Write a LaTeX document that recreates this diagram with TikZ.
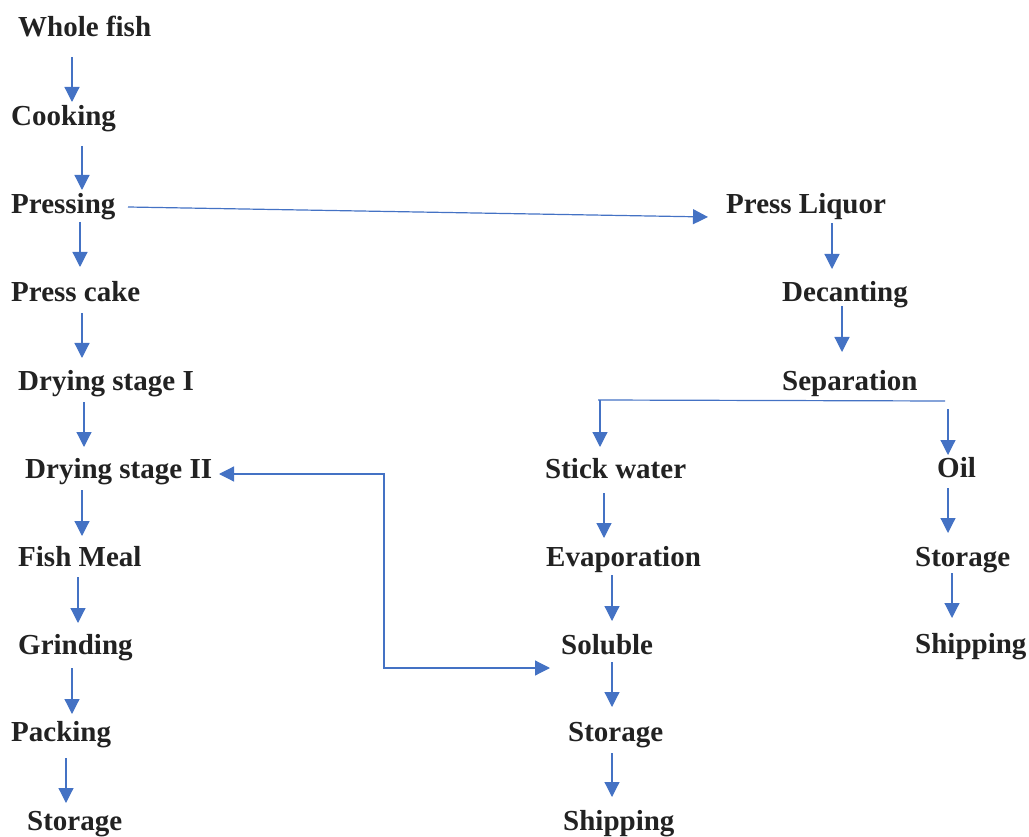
\documentclass[tikz,border=0pt]{standalone}
\usepackage{fontspec}
\setmainfont{Liberation Serif}[BoldFont={Liberation Serif Bold}]
\newfontfamily\stagefont{Liberation Serif Bold}
\usetikzlibrary{arrows.meta,calc}
\definecolor{flowblue}{HTML}{4472C4}
\definecolor{ink}{HTML}{222222}
\begin{document}
\begin{tikzpicture}[x=1pt,y=-1pt,
  stage/.style={anchor=base west,inner sep=0pt,text=ink,font=\stagefont\fontsize{29}{33}\selectfont},
  arr/.style={draw=flowblue,line width=1.2pt,-{Triangle[length=15pt,width=15pt]}},
  both/.style={draw=flowblue,line width=1.2pt,{Triangle[length=15pt,width=15pt]}-{Triangle[length=15pt,width=15pt]}},
  plain/.style={draw=flowblue,line width=1.2pt}]
\useasboundingbox (0,0) rectangle (1029,837);

% meal line
\node[stage] (wf)    at (18,37)  {Whole fish};
\node[stage] (cook)  at (11,126) {Cooking};
\node[stage] (press) at (11,214) {Pressing};
\node[stage] (cake)  at (11,302) {Press cake};
\node[stage] (dry1)  at (18,390) {Drying stage I};
\node[stage] (dry2)  at (25,478) {Drying stage II};
\node[stage] (meal)  at (18,566) {Fish Meal};
\node[stage] (grind) at (18,654) {Grinding};
\node[stage] (pack)  at (11,741) {Packing};
\node[stage] (stor1) at (27,830) {Storage};

% liquor line
\node[stage] (liq)   at (726,214) {Press Liquor};
\node[stage] (dec)   at (782,302) {Decanting};
\node[stage] (sep)   at (782,390) {Separation};
\node[stage] (stick) at (545,478) {Stick water};
\node[stage] (evap)  at (546,566) {Evaporation};
\node[stage] (sol)   at (561,654) {Soluble};
\node[stage] (stor2) at (568,741) {Storage};
\node[stage] (ship2) at (563,830) {Shipping};
\node[stage] (oil)   at (937,477) {Oil};
\node[stage] (stor3) at (915,566) {Storage};
\node[stage] (ship3) at (915,653) {Shipping};

% meal line arrows
\draw[arr] ($(wf.base west)+(54,20)$)    -- ($(cook.base west)+(61,-24)$);
\draw[arr] ($(cook.base west)+(71,20)$)  -- ($(press.base west)+(71,-24)$);
\draw[arr] ($(press.base west)+(69,8)$)  -- ($(cake.base west)+(69,-35)$);
\draw[arr] ($(cake.base west)+(71,11)$)  -- ($(dry1.base west)+(64,-32)$);
\draw[arr] ($(dry1.base west)+(66,12)$)  -- ($(dry2.base west)+(59,-31)$);
\draw[arr] ($(dry2.base west)+(57,12)$)  -- ($(meal.base west)+(64,-30)$);
\draw[arr] ($(meal.base west)+(60,11)$)  -- ($(grind.base west)+(60,-31)$);
\draw[arr] ($(grind.base west)+(54,14)$) -- ($(pack.base west)+(61,-27)$);
\draw[arr] ($(pack.base west)+(55,17)$)  -- ($(stor1.base west)+(39,-27)$);

% pressing to press liquor
\draw[arr] ($(press.base west)+(117,-7)$) -- ($(liq.base west)+(-18,3)$);

% liquor line arrows
\draw[arr] ($(liq.base west)+(106,9)$)   -- ($(dec.base west)+(50,-33)$);
\draw[arr] ($(dec.base west)+(60,4)$)    -- ($(sep.base west)+(60,-38)$);
\draw[plain] ($(sep.base west)+(-184,10)$) -- ($(sep.base west)+(163,11)$);
\draw[arr] ($(sep.base west)+(-182,10)$) -- ($(stick.base west)+(55,-31)$);
\draw[arr] ($(sep.base west)+(166,19)$)  -- ($(oil.base west)+(11,-22)$);
\draw[arr] ($(stick.base west)+(59,15)$) -- ($(evap.base west)+(58,-28)$);
\draw[arr] ($(evap.base west)+(66,9)$)   -- ($(sol.base west)+(51,-33)$);
\draw[arr] ($(sol.base west)+(51,8)$)    -- ($(stor2.base west)+(44,-34)$);
\draw[arr] ($(stor2.base west)+(44,12)$) -- ($(ship2.base west)+(49,-33)$);
\draw[arr] ($(oil.base west)+(11,11)$)   -- ($(stor3.base west)+(33,-33)$);
\draw[arr] ($(stor3.base west)+(37,7)$)  -- ($(ship3.base west)+(37,-35)$);

% soluble returned to drying stage II
\coordinate (ret) at (384,474);
\draw[both] ($(dry2.base west)+(194,-4)$) -- (ret) |- ($(sol.base west)+(-11,14)$);
\end{tikzpicture}
\end{document}
